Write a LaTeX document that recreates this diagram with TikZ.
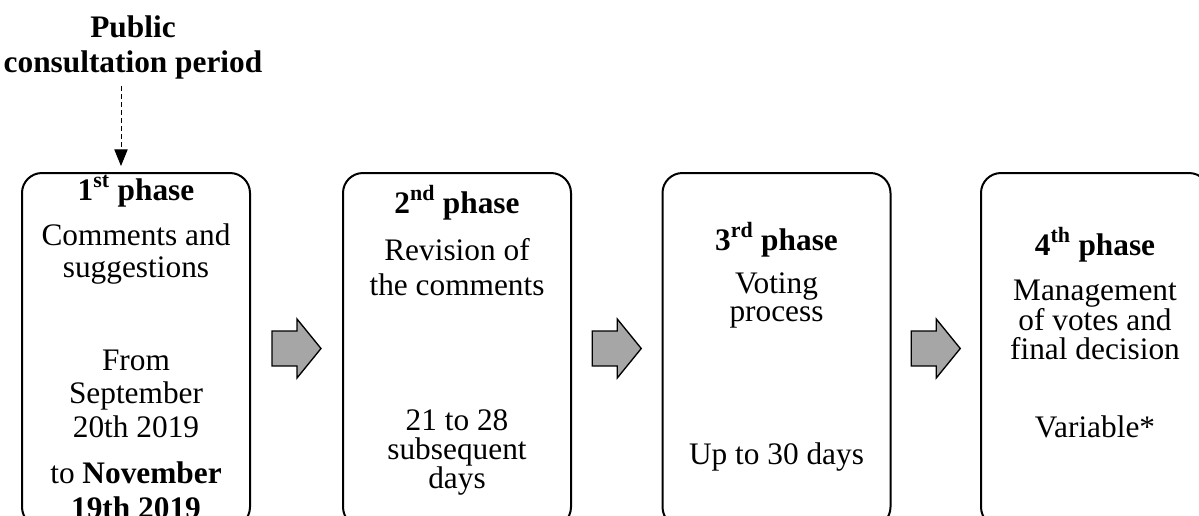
\documentclass[tikz,border=0pt]{standalone}
\usepackage{fontspec}
\setmainfont{Liberation Serif}
\usepackage{xcolor}
\usetikzlibrary{arrows.meta,calc}

\definecolor{arrowgray}{HTML}{A6A6A6}

\tikzset{
  phasebox/.style={draw, line width=1.5pt, rounded corners=15pt,
    minimum width=171pt, minimum height=265.5pt, inner sep=0pt},
  phasetxt/.style={anchor=base, align=center, inner sep=0pt},
  blockarrow/.pic={
    \draw[fill=arrowgray, line width=1pt, line join=miter]
      (-24.5,-17.5) -- (0.5,-17.5) -- (0.5,-29.5) -- (24.5,0)
      -- (0.5,29.5) -- (0.5,17.5) -- (-24.5,17.5) -- cycle;}
}
\newcommand{\txtsize}[1]{\fontsize{23.5}{#1}\selectfont}

\begin{document}
\begin{tikzpicture}[x=0.75pt, y=-0.75pt]
        \clip (0,0) rectangle (1199,515);

        % Phase boxes
        \node[phasebox] (p1) at (136,350) {};
        \node[phasebox] (p2) at (457,350) {};
        \node[phasebox] (p3) at (776.5,350) {};
        \node[phasebox] (p4) at (1095,350) {};

        % Block arrows between the phases
        \path ($(p1.east)!0.5!(p2.west)$) +(0,-1.5) pic {blockarrow};
        \path ($(p2.east)!0.5!(p3.west)$) +(0,-1.5) pic {blockarrow};
        \path ($(p3.east)!0.5!(p4.west)$) +(0,-1.5) pic {blockarrow};

        % Public consultation period (base = last line)
        \node[phasetxt, font=\bfseries\txtsize{26}] (cons) at (133,72) {Public\\consultation period};
        \coordinate (ctop) at (121,86);
        \coordinate (ctip) at (121,166);
        \draw[line width=0.75pt, dash pattern=on 3.75pt off 2.25pt,
              -{Triangle[width=10pt, length=12.5pt]}] (ctop) -- (ctip);

        % 1st phase
        \node[phasetxt, font=\bfseries\txtsize{28}] (h1) at (136,200) {1\textsuperscript{st} phase};
        \node[phasetxt, font=\txtsize{24}] (d1) at (136,277) {Comments and\\suggestions};
        \node[phasetxt, font=\txtsize{25}] (t1) at (136,437) {From\\September\\20th 2019};
        \node[phasetxt, font=\txtsize{26}] (e1) at (136,518) {to \textbf{November}\\\textbf{19th 2019}};

        % 2nd phase
        \node[phasetxt, font=\bfseries\txtsize{28}] (h2) at (457,213) {2\textsuperscript{nd} phase};
        \node[phasetxt, font=\txtsize{26}] (d2) at (457,295) {Revision of\\the comments};
        \node[phasetxt, font=\txtsize{21.5}] (t2) at (457,488) {21 to 28\\subsequent\\days};

        % 3rd phase
        \node[phasetxt, font=\bfseries\txtsize{28}] (h3) at (776.5,250) {3\textsuperscript{rd} phase};
        \node[phasetxt, font=\txtsize{20.5}] (d3) at (776.5,321) {Voting\\process};
        \node[phasetxt, font=\txtsize{28}] (t3) at (776.5,464) {Up to 30 days};

        % 4th phase
        \node[phasetxt, font=\bfseries\txtsize{28}] (h4) at (1095,255) {4\textsuperscript{th} phase};
        \node[phasetxt, font=\txtsize{21.5}] (d4) at (1095,359) {Management\\of votes and\\final decision};
        \node[phasetxt, font=\txtsize{28}] (t4) at (1095,437) {Variable*};
    \end{tikzpicture}
\end{document}
